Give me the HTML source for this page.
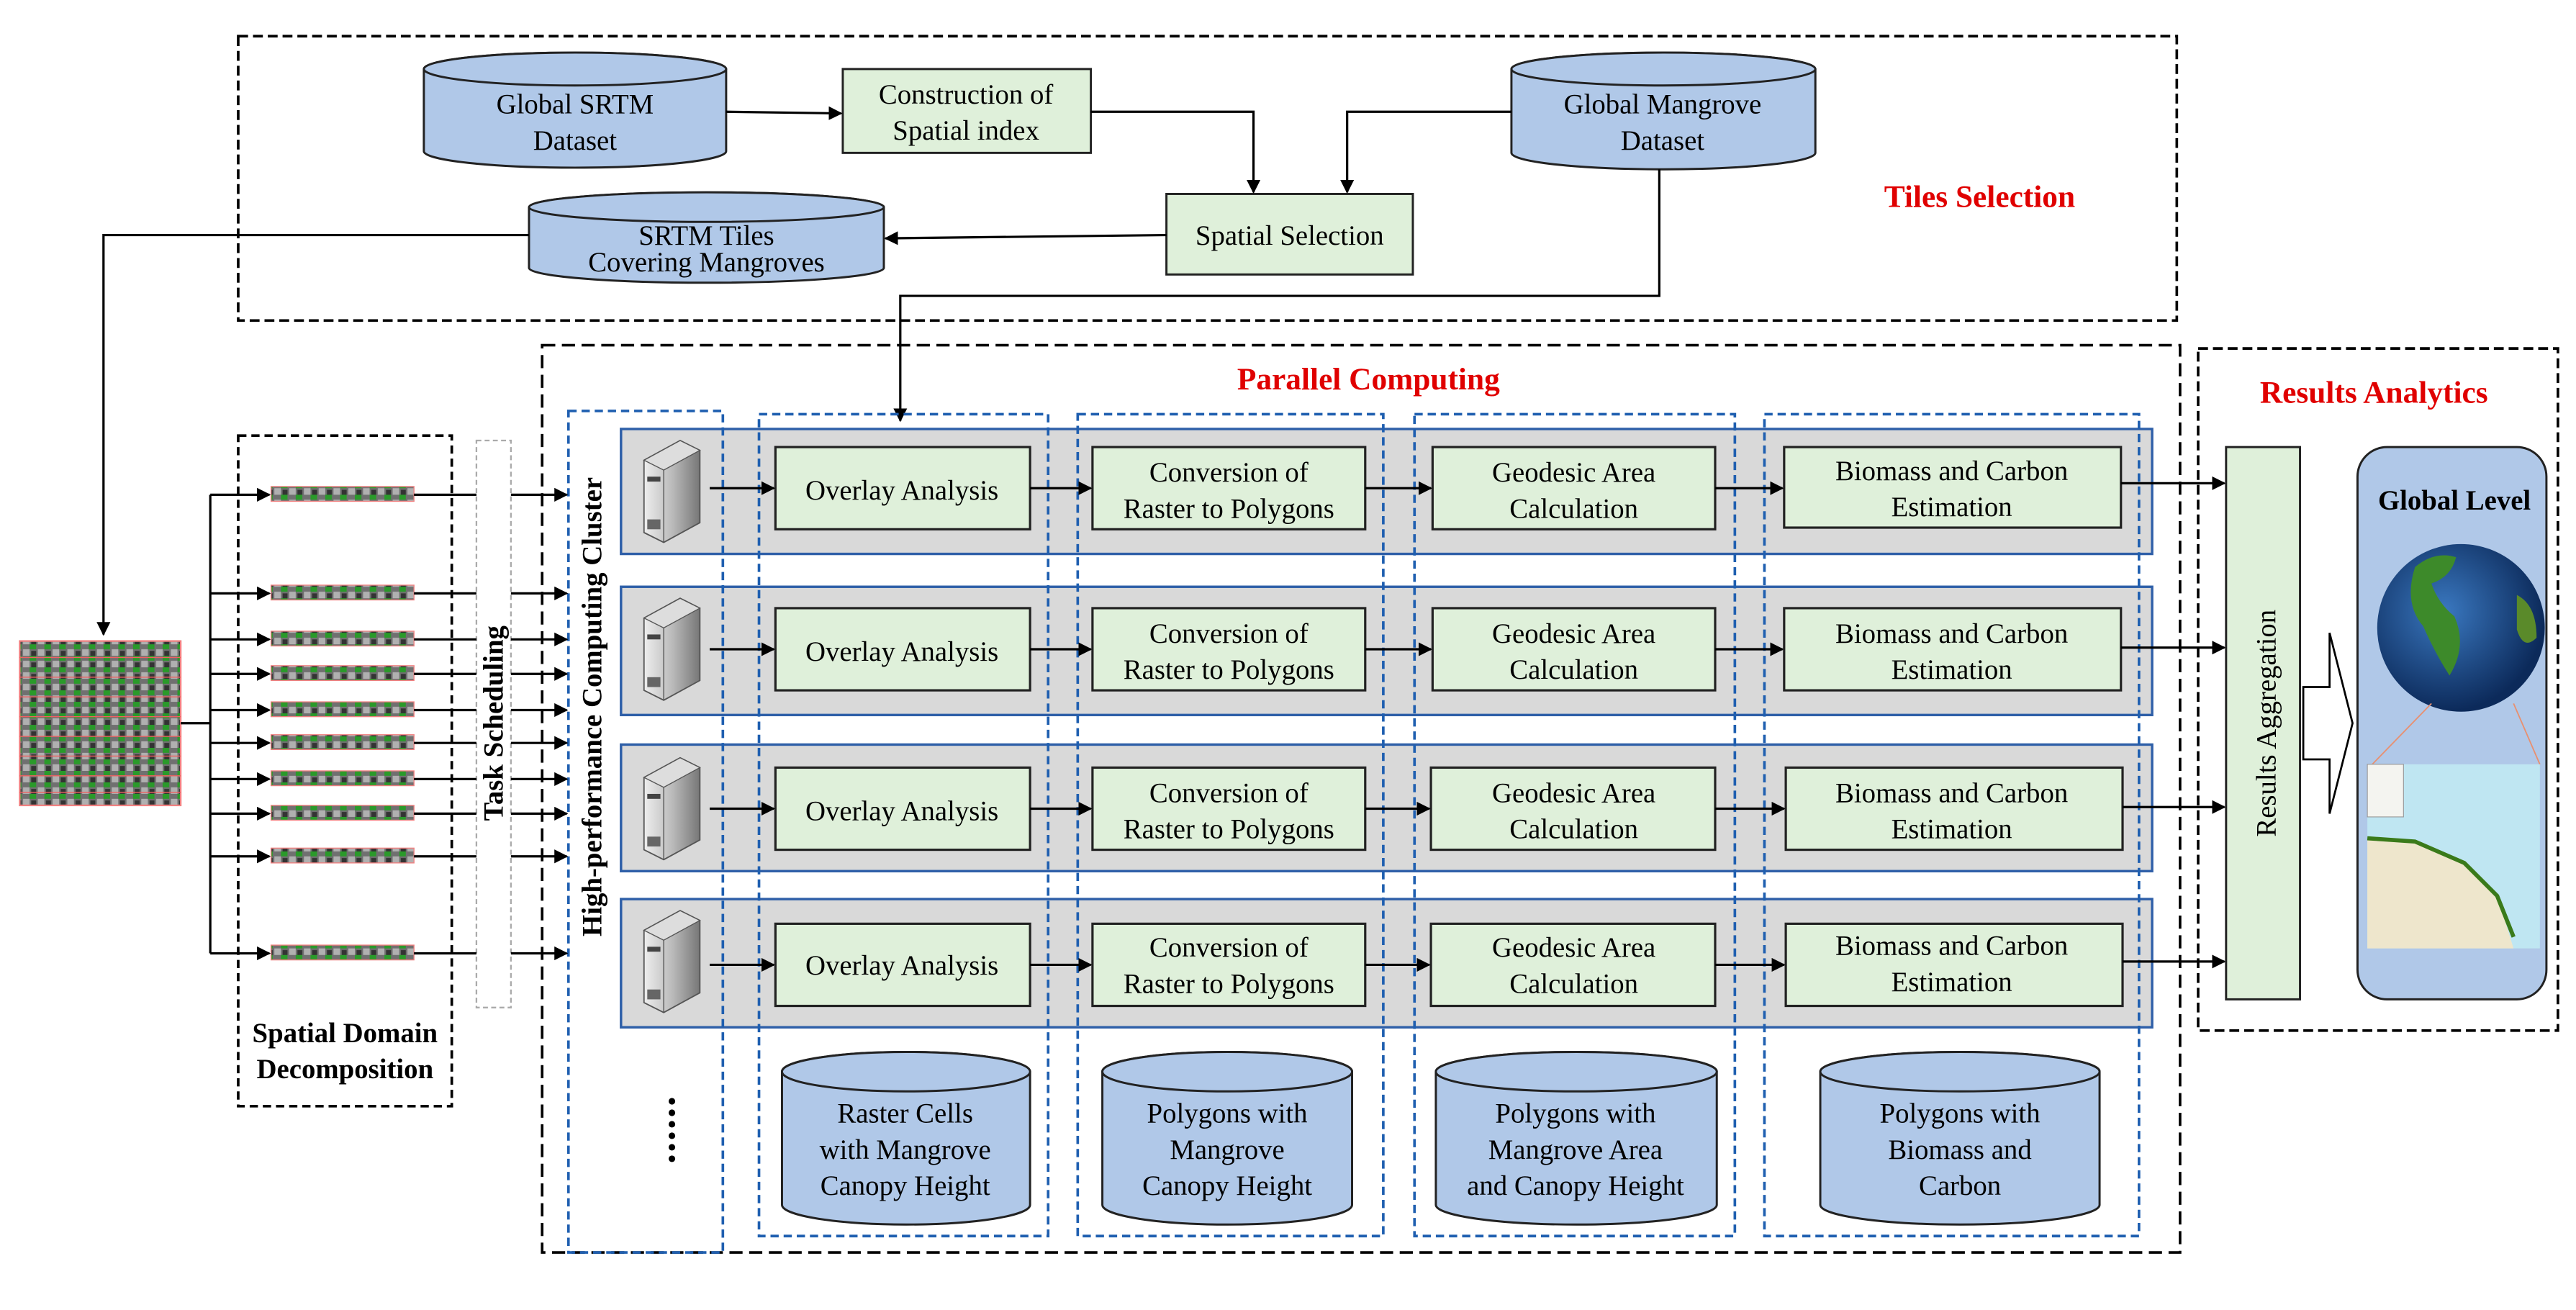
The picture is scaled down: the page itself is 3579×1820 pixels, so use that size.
<!DOCTYPE html>
<html><head><meta charset="utf-8"><style>
html,body{margin:0;padding:0;background:#fff;}
svg{display:block;font-family:"Liberation Serif","Times New Roman",serif;}
svg text{font-family:"Liberation Serif","Times New Roman",serif;}
</style></head><body>
<svg width="3579" height="1820" viewBox="0 0 1568 797" preserveAspectRatio="none" xmlns="http://www.w3.org/2000/svg" font-family="Liberation Serif, serif">
<defs>
<marker id="ar" viewBox="0 0 10 10" refX="9" refY="5" markerWidth="6" markerHeight="6" orient="auto"><path d="M0,0 L10,5 L0,10 z" fill="#000"/></marker>
<linearGradient id="srv" x1="0" x2="1"><stop offset="0" stop-color="#eee"/><stop offset="0.5" stop-color="#bbb"/><stop offset="1" stop-color="#777"/></linearGradient>
<radialGradient id="globe" cx="0.4" cy="0.4" r="0.6"><stop offset="0" stop-color="#3a78c0"/><stop offset="1" stop-color="#0c2a5a"/></radialGradient>
<g id="server">
<path d="M0,12 L22,0 L34,6 L34,50 L12,62 L0,56 Z" fill="url(#srv)" stroke="#555" stroke-width="0.8"/>
<path d="M0,12 L22,0 L34,6 L12,18 Z" fill="#ddd" stroke="#555" stroke-width="0.6"/>
<line x1="12" y1="18" x2="12" y2="62" stroke="#555" stroke-width="0.6"/>
<rect x="2" y="22" width="8" height="3" fill="#444"/><rect x="2" y="48" width="8" height="6" fill="#666"/>
</g>
<pattern id="sat" width="9" height="7" patternUnits="userSpaceOnUse"><rect width="9" height="7" fill="#707070"/><rect x="0" y="0" width="4" height="3" fill="#2a9a2a"/><rect x="5" y="3" width="4" height="4" fill="#b0b0b0"/><rect x="1" y="4" width="3" height="3" fill="#333"/></pattern>
</defs>

<rect x="145" y="22" width="1180" height="173" fill="none" stroke="#000" stroke-width="1.6" stroke-dasharray="6,3"/>
<text x="1205" y="126" font-size="19" font-weight="bold" fill="#e00000" text-anchor="middle">Tiles Selection</text>

<g fill="#b0c8e8" stroke="#222" stroke-width="1.3">
<path d="M258,42 A92,10 0 0 1 442,42 V92 A92,10 0 0 1 258,92 Z"/><ellipse cx="350" cy="42" rx="92" ry="10"/>
<path d="M920,42 A92.5,10 0 0 1 1105,42 V93 A92.5,10 0 0 1 920,93 Z"/><ellipse cx="1012.5" cy="42" rx="92.5" ry="10"/>
<path d="M322,126 A108,9 0 0 1 538,126 V163 A108,9 0 0 1 322,163 Z"/><ellipse cx="430" cy="126" rx="108" ry="9"/>
</g>
<g font-size="17" text-anchor="middle" fill="#000">
<text x="350" y="69">Global SRTM</text><text x="350" y="91">Dataset</text>
<text x="1012" y="69">Global Mangrove</text><text x="1012" y="91">Dataset</text>
<text x="430" y="149">SRTM Tiles</text><text x="430" y="165">Covering Mangroves</text>
</g>
<g fill="#dff0da" stroke="#222" stroke-width="1.3">
<rect x="513" y="42" width="151" height="51"/>
<rect x="710" y="118" width="150" height="49"/>
</g>
<g font-size="17" text-anchor="middle">
<text x="588" y="63">Construction of</text><text x="588" y="85">Spatial index</text>
<text x="785" y="149">Spatial Selection</text>
</g>
<g fill="none" stroke="#000" stroke-width="1.4">
<line x1="442" y1="68" x2="512" y2="69" marker-end="url(#ar)"/>
<polyline points="664,68 763,68 763,117" marker-end="url(#ar)"/>
<polyline points="920,68 820,68 820,117" marker-end="url(#ar)"/>
<line x1="710" y1="143" x2="539" y2="145" marker-end="url(#ar)"/>
<polyline points="322,143 63,143 63,386" marker-end="url(#ar)"/>
<polyline points="1010,103 1010,180 548,180 548,256" marker-end="url(#ar)"/>
</g>

<rect x="330" y="210" width="997" height="552" fill="none" stroke="#000" stroke-width="1.6" stroke-dasharray="8,4"/>
<text x="833" y="237" font-size="19" font-weight="bold" fill="#e00000" text-anchor="middle">Parallel Computing</text>
<rect x="1338" y="212" width="219" height="415" fill="none" stroke="#000" stroke-width="1.6" stroke-dasharray="6,3"/>
<text x="1445" y="245" font-size="19" font-weight="bold" fill="#e00000" text-anchor="middle">Results Analytics</text>

<g fill="#d9d9d9" stroke="#2e5fa8" stroke-width="1.5">
<rect x="378" y="261" width="932" height="76"/>
<rect x="378" y="357" width="932" height="78"/>
<rect x="378" y="453" width="932" height="77"/>
<rect x="378" y="547" width="932" height="78"/>
</g>

<g fill="none" stroke="#1f5fb0" stroke-width="1.6" stroke-dasharray="5,3">
<rect x="346" y="250" width="94" height="512"/>
<rect x="462" y="252" width="176" height="500"/>
<rect x="656" y="252" width="186" height="500"/>
<rect x="861" y="252" width="195" height="500"/>
<rect x="1074" y="252" width="228" height="500"/>
</g>
<text transform="translate(366,430) rotate(-90)" font-size="17" font-weight="bold" text-anchor="middle">High-performance Computing Cluster</text>

<use href="#server" x="392" y="268"/>
<use href="#server" x="392" y="364"/>
<use href="#server" x="392" y="461"/>
<use href="#server" x="392" y="554"/>

<g fill="#dff0da" stroke="#222" stroke-width="1.4">
<rect x="472" y="272" width="155" height="50"/><rect x="665" y="272" width="166" height="50"/><rect x="872" y="272" width="172" height="50"/><rect x="1086" y="272" width="205" height="49"/>
<rect x="472" y="370" width="155" height="50"/><rect x="665" y="370" width="166" height="50"/><rect x="872" y="370" width="172" height="50"/><rect x="1086" y="370" width="205" height="50"/>
<rect x="472" y="467" width="155" height="50"/><rect x="665" y="467" width="166" height="50"/><rect x="871" y="467" width="173" height="50"/><rect x="1087" y="467" width="205" height="50"/>
<rect x="472" y="562" width="155" height="50"/><rect x="665" y="562" width="166" height="50"/><rect x="871" y="562" width="173" height="50"/><rect x="1087" y="562" width="205" height="50"/>
</g>
<g font-size="17" text-anchor="middle">
<text x="549" y="304">Overlay Analysis</text><text x="748" y="293">Conversion of</text><text x="748" y="315">Raster to Polygons</text><text x="958" y="293">Geodesic Area</text><text x="958" y="315">Calculation</text><text x="1188" y="292">Biomass and Carbon</text><text x="1188" y="314">Estimation</text>
<text x="549" y="402">Overlay Analysis</text><text x="748" y="391">Conversion of</text><text x="748" y="413">Raster to Polygons</text><text x="958" y="391">Geodesic Area</text><text x="958" y="413">Calculation</text><text x="1188" y="391">Biomass and Carbon</text><text x="1188" y="413">Estimation</text>
<text x="549" y="499">Overlay Analysis</text><text x="748" y="488">Conversion of</text><text x="748" y="510">Raster to Polygons</text><text x="958" y="488">Geodesic Area</text><text x="958" y="510">Calculation</text><text x="1188" y="488">Biomass and Carbon</text><text x="1188" y="510">Estimation</text>
<text x="549" y="593">Overlay Analysis</text><text x="748" y="582">Conversion of</text><text x="748" y="604">Raster to Polygons</text><text x="958" y="582">Geodesic Area</text><text x="958" y="604">Calculation</text><text x="1188" y="581">Biomass and Carbon</text><text x="1188" y="603">Estimation</text>
</g>
<g stroke="#000" stroke-width="1.4" fill="none">
<line x1="432" y1="297" x2="471" y2="297" marker-end="url(#ar)"/><line x1="627" y1="297" x2="664" y2="297" marker-end="url(#ar)"/><line x1="831" y1="297" x2="871" y2="297" marker-end="url(#ar)"/><line x1="1044" y1="297" x2="1085" y2="297" marker-end="url(#ar)"/><line x1="1291" y1="294" x2="1354" y2="294" marker-end="url(#ar)"/>
<line x1="432" y1="395" x2="471" y2="395" marker-end="url(#ar)"/><line x1="627" y1="395" x2="664" y2="395" marker-end="url(#ar)"/><line x1="831" y1="395" x2="871" y2="395" marker-end="url(#ar)"/><line x1="1044" y1="395" x2="1085" y2="395" marker-end="url(#ar)"/><line x1="1291" y1="394" x2="1354" y2="394" marker-end="url(#ar)"/>
<line x1="432" y1="492" x2="471" y2="492" marker-end="url(#ar)"/><line x1="627" y1="492" x2="664" y2="492" marker-end="url(#ar)"/><line x1="831" y1="492" x2="870" y2="492" marker-end="url(#ar)"/><line x1="1044" y1="492" x2="1086" y2="492" marker-end="url(#ar)"/><line x1="1292" y1="491" x2="1354" y2="491" marker-end="url(#ar)"/>
<line x1="432" y1="587" x2="471" y2="587" marker-end="url(#ar)"/><line x1="627" y1="587" x2="664" y2="587" marker-end="url(#ar)"/><line x1="831" y1="587" x2="870" y2="587" marker-end="url(#ar)"/><line x1="1044" y1="587" x2="1086" y2="587" marker-end="url(#ar)"/><line x1="1292" y1="585" x2="1354" y2="585" marker-end="url(#ar)"/>
</g>

<g fill="#b0c8e8" stroke="#222" stroke-width="1.3">
<path d="M476,652 A75.5,12 0 0 1 627,652 V733 A75.5,12 0 0 1 476,733 Z"/><ellipse cx="551.5" cy="652" rx="75.5" ry="12"/>
<path d="M671,652 A76,12 0 0 1 823,652 V733 A76,12 0 0 1 671,733 Z"/><ellipse cx="747" cy="652" rx="76" ry="12"/>
<path d="M874,652 A85.5,12 0 0 1 1045,652 V733 A85.5,12 0 0 1 874,733 Z"/><ellipse cx="959.5" cy="652" rx="85.5" ry="12"/>
<path d="M1108,652 A85,12 0 0 1 1278,652 V733 A85,12 0 0 1 1108,733 Z"/><ellipse cx="1193" cy="652" rx="85" ry="12"/>
</g>
<g font-size="17" text-anchor="middle">
<text x="551" y="683">Raster Cells</text><text x="551" y="705">with Mangrove</text><text x="551" y="727">Canopy Height</text>
<text x="747" y="683">Polygons with</text><text x="747" y="705">Mangrove</text><text x="747" y="727">Canopy Height</text>
<text x="959" y="683">Polygons with</text><text x="959" y="705">Mangrove Area</text><text x="959" y="727">and Canopy Height</text>
<text x="1193" y="683">Polygons with</text><text x="1193" y="705">Biomass and</text><text x="1193" y="727">Carbon</text>
</g>
<g fill="#000"><circle cx="409" cy="670" r="2"/><circle cx="409" cy="677" r="2"/><circle cx="409" cy="684" r="2"/><circle cx="409" cy="691" r="2"/><circle cx="409" cy="698" r="2"/><circle cx="409" cy="705" r="2"/></g>

<rect x="1355" y="272" width="45" height="336" fill="#dff0da" stroke="#222" stroke-width="1.3"/>
<text transform="translate(1385,440) rotate(-90)" font-size="17" text-anchor="middle">Results Aggregation</text>
<path d="M1402,418 L1418,418 L1418,385 L1432,440 L1418,495 L1418,462 L1402,462 Z" fill="#fff" stroke="#000" stroke-width="1.2"/>
<rect x="1435" y="272" width="115" height="336" rx="18" fill="#b0c8e8" stroke="#222" stroke-width="1.3"/>
<text x="1494" y="310" font-size="17" font-weight="bold" text-anchor="middle">Global Level</text>
<circle cx="1498" cy="382" r="51" fill="url(#globe)"/>
<path d="M1470,345 q12,-10 25,-6 q-3,12 -15,16 q4,12 14,20 q8,18 -3,36 q-9,-14 -16,-30 q-12,-14 -5,-36z" fill="#3d8a2a"/>
<path d="M1532,362 q12,6 12,26 q-8,8 -12,-5z" fill="#5a8a2a"/>
<line x1="1480" y1="428" x2="1444" y2="465" stroke="#e89070" stroke-width="0.8"/><line x1="1530" y1="428" x2="1546" y2="465" stroke="#e89070" stroke-width="0.8"/>
<rect x="1441" y="465" width="105" height="112" fill="#bfe6f2"/>
<path d="M1441,510 L1470,512 L1500,525 L1520,545 L1530,577 L1441,577 Z" fill="#eee6cc"/>
<path d="M1441,510 L1470,512 L1500,525 L1520,545 L1530,570" fill="none" stroke="#3a7a1a" stroke-width="2.5"/>
<rect x="1441" y="465" width="22" height="32" fill="#f4f4f0" stroke="#999" stroke-width="0.5"/>

<rect x="145" y="265" width="130" height="408" fill="none" stroke="#000" stroke-width="1.6" stroke-dasharray="5,3"/>
<text x="210" y="634" font-size="17" font-weight="bold" text-anchor="middle">Spatial Domain</text>
<text x="210" y="656" font-size="17" font-weight="bold" text-anchor="middle">Decomposition</text>
<rect x="290" y="268" width="21" height="345" fill="none" stroke="#aaa" stroke-width="1" stroke-dasharray="3,2"/>
<text transform="translate(306,440) rotate(-90)" font-size="17" font-weight="bold" text-anchor="middle">Task Scheduling</text>

<rect x="12" y="390" width="98" height="100" fill="url(#sat)" stroke="#f08080" stroke-width="1"/>
<g stroke="#f06060" stroke-width="0.6"><line x1="12" y1="400" x2="110" y2="400"/><line x1="12" y1="412" x2="110" y2="412"/><line x1="12" y1="424" x2="110" y2="424"/><line x1="12" y1="436" x2="110" y2="436"/><line x1="12" y1="448" x2="110" y2="448"/><line x1="12" y1="460" x2="110" y2="460"/><line x1="12" y1="472" x2="110" y2="472"/><line x1="12" y1="482" x2="110" y2="482"/></g>

<g stroke="#000" stroke-width="1.4" fill="none">
<polyline points="110,440 128,440"/>
<line x1="128" y1="301" x2="128" y2="580"/>
</g>
<g>
<rect x="165" y="296" width="87" height="9" fill="url(#sat)" stroke="#f08080" stroke-width="0.6"/>
<rect x="165" y="356" width="87" height="9" fill="url(#sat)" stroke="#f08080" stroke-width="0.6"/>
<rect x="165" y="384" width="87" height="9" fill="url(#sat)" stroke="#f08080" stroke-width="0.6"/>
<rect x="165" y="405" width="87" height="9" fill="url(#sat)" stroke="#f08080" stroke-width="0.6"/>
<rect x="165" y="427" width="87" height="9" fill="url(#sat)" stroke="#f08080" stroke-width="0.6"/>
<rect x="165" y="447" width="87" height="9" fill="url(#sat)" stroke="#f08080" stroke-width="0.6"/>
<rect x="165" y="469" width="87" height="9" fill="url(#sat)" stroke="#f08080" stroke-width="0.6"/>
<rect x="165" y="490" width="87" height="9" fill="url(#sat)" stroke="#f08080" stroke-width="0.6"/>
<rect x="165" y="516" width="87" height="9" fill="url(#sat)" stroke="#f08080" stroke-width="0.6"/>
<rect x="165" y="575" width="87" height="9" fill="url(#sat)" stroke="#f08080" stroke-width="0.6"/>
</g>
<g stroke="#000" stroke-width="1.4" fill="none">
<line x1="128" y1="301" x2="164" y2="301" marker-end="url(#ar)"/><line x1="252" y1="301" x2="290" y2="301"/><line x1="311" y1="301" x2="345" y2="301" marker-end="url(#ar)"/>
<line x1="128" y1="361" x2="164" y2="361" marker-end="url(#ar)"/><line x1="252" y1="361" x2="290" y2="361"/><line x1="311" y1="361" x2="345" y2="361" marker-end="url(#ar)"/>
<line x1="128" y1="389" x2="164" y2="389" marker-end="url(#ar)"/><line x1="252" y1="389" x2="290" y2="389"/><line x1="311" y1="389" x2="345" y2="389" marker-end="url(#ar)"/>
<line x1="128" y1="410" x2="164" y2="410" marker-end="url(#ar)"/><line x1="252" y1="410" x2="290" y2="410"/><line x1="311" y1="410" x2="345" y2="410" marker-end="url(#ar)"/>
<line x1="128" y1="432" x2="164" y2="432" marker-end="url(#ar)"/><line x1="252" y1="432" x2="290" y2="432"/><line x1="311" y1="432" x2="345" y2="432" marker-end="url(#ar)"/>
<line x1="128" y1="452" x2="164" y2="452" marker-end="url(#ar)"/><line x1="252" y1="452" x2="290" y2="452"/><line x1="311" y1="452" x2="345" y2="452" marker-end="url(#ar)"/>
<line x1="128" y1="474" x2="164" y2="474" marker-end="url(#ar)"/><line x1="252" y1="474" x2="290" y2="474"/><line x1="311" y1="474" x2="345" y2="474" marker-end="url(#ar)"/>
<line x1="128" y1="495" x2="164" y2="495" marker-end="url(#ar)"/><line x1="252" y1="495" x2="290" y2="495"/><line x1="311" y1="495" x2="345" y2="495" marker-end="url(#ar)"/>
<line x1="128" y1="521" x2="164" y2="521" marker-end="url(#ar)"/><line x1="252" y1="521" x2="290" y2="521"/><line x1="311" y1="521" x2="345" y2="521" marker-end="url(#ar)"/>
<line x1="128" y1="580" x2="164" y2="580" marker-end="url(#ar)"/><line x1="252" y1="580" x2="290" y2="580"/><line x1="311" y1="580" x2="345" y2="580" marker-end="url(#ar)"/>
</g>
</svg>
</body></html>
